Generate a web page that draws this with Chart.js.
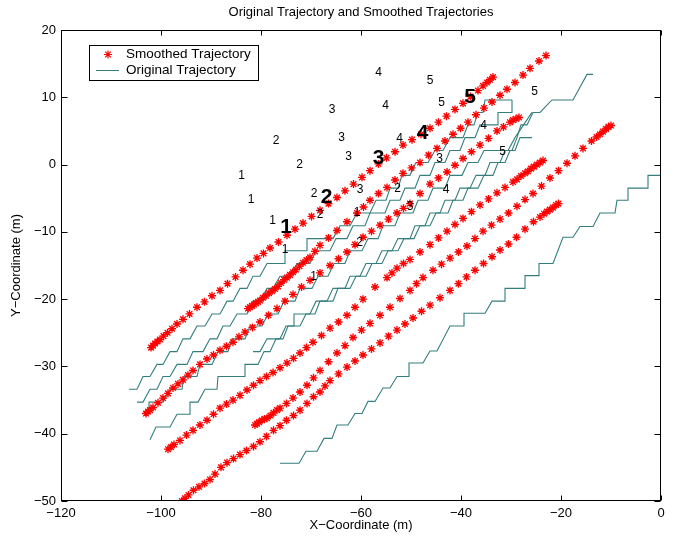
<!DOCTYPE html>
<html>
<head>
<meta charset="utf-8">
<script src="https://cdn.jsdelivr.net/npm/chart.js@4/dist/chart.umd.min.js"></script>
<style>
html,body{margin:0;padding:0;background:#fff;}
#wrap{width:673px;height:539px;}
</style>
</head>
<body>
<div id="wrap"><canvas id="c" width="673" height="539"></canvas></div>
<script>
// ---------- DATA ----------
const xTickValues = [-120, -100, -80, -60, -40, -20, 0];
const yTickValues = [-50, -40, -30, -20, -10, 0, 10, 20];

// Smoothed trajectories (red stars)
const smoothedA = [[-102.0,-27.2],[-101.6,-26.9],[-101.2,-26.6],[-100.7,-26.3],[-100.2,-26.0],[-99.5,-25.5],[-98.7,-25.0],[-97.8,-24.4],[-96.8,-23.7],[-95.6,-23.0],[-94.3,-22.2],[-92.8,-21.2],[-91.3,-20.4],[-89.8,-19.5],[-88.2,-18.7],[-86.7,-17.7],[-85.1,-16.7],[-83.6,-15.7],[-82.2,-14.8],[-80.8,-13.9],[-79.5,-13.2],[-78.2,-12.4],[-76.5,-11.5],[-74.8,-10.5],[-73.2,-9.6],[-71.6,-8.7],[-69.9,-7.7],[-68.2,-6.8],[-66.5,-5.8],[-64.8,-4.9],[-63.2,-3.9],[-61.5,-2.9],[-59.8,-1.9],[-58.2,-0.9],[-56.5,0.1],[-54.9,1.0],[-53.2,1.9],[-51.6,2.9],[-49.8,3.7],[-48.0,4.5],[-46.2,5.4],[-44.5,6.3],[-42.9,7.2],[-41.2,8.2],[-39.6,9.1],[-38.1,10.1],[-36.6,11.0],[-35.6,11.7],[-34.8,12.2],[-34.2,12.6],[-33.6,13.0]];
const smoothedB = [[-82.6,-21.4],[-82.2,-21.2],[-81.8,-21.0],[-81.4,-20.8],[-81.0,-20.6],[-80.6,-20.4],[-80.2,-20.2],[-79.6,-19.8],[-79.0,-19.5],[-78.4,-19.1],[-77.8,-18.8],[-77.2,-18.5],[-76.6,-18.1],[-76.0,-17.6],[-75.4,-17.1],[-74.8,-16.8],[-74.2,-16.4],[-73.6,-16.0],[-73.0,-15.6],[-72.3,-15.1],[-71.6,-14.6],[-70.9,-14.2],[-70.2,-13.8],[-69.2,-12.9],[-68.2,-12.0],[-66.5,-10.9],[-64.8,-9.8],[-62.8,-8.5],[-60.8,-7.2],[-59.5,-6.3],[-58.2,-5.3],[-56.5,-4.3],[-54.8,-3.4],[-53.2,-2.3],[-51.6,-1.3],[-49.9,-0.5],[-48.2,0.3],[-46.5,1.4],[-44.8,2.4],[-43.2,3.5],[-41.6,4.5],[-40.1,5.4],[-38.6,6.3],[-37.0,7.4],[-35.4,8.4],[-33.8,9.3],[-32.2,10.3],[-30.8,11.2],[-29.2,12.2],[-27.6,13.3],[-26.2,14.3],[-24.4,15.4],[-23.0,16.2]];
const smoothedC = [[-103.0,-37.0],[-102.6,-36.7],[-102.2,-36.5],[-101.6,-36.1],[-100.6,-35.4],[-99.6,-34.7],[-98.6,-34.0],[-97.6,-33.2],[-96.6,-32.6],[-95.6,-32.0],[-94.6,-31.3],[-93.6,-30.6],[-92.2,-29.7],[-90.8,-28.9],[-89.5,-28.3],[-88.2,-27.6],[-86.9,-27.0],[-85.6,-26.4],[-84.4,-25.6],[-83.2,-24.9],[-81.7,-24.2],[-80.2,-23.4],[-78.5,-22.4],[-76.8,-21.4],[-75.2,-20.3],[-73.6,-19.3],[-71.9,-18.2],[-70.2,-17.2],[-68.2,-16.1],[-66.2,-15.0],[-64.5,-14.0],[-62.8,-13.0],[-61.2,-11.9],[-59.6,-10.8],[-57.9,-9.9],[-56.2,-9.0],[-54.5,-8.1],[-52.8,-7.2],[-51.5,-6.5],[-50.2,-5.8],[-48.2,-4.3],[-46.2,-2.9],[-44.5,-2.0],[-42.8,-1.1],[-41.2,-0.1],[-39.6,0.9],[-37.9,1.9],[-36.2,2.9],[-34.5,3.9],[-32.8,5.0],[-31.5,5.6],[-30.2,6.3],[-29.6,6.6],[-29.0,6.8],[-28.4,7.0]];
const smoothedD = [[-98.6,-42.3],[-98.0,-42.0],[-97.4,-41.6],[-96.2,-41.0],[-94.9,-40.2],[-93.6,-39.5],[-92.2,-38.7],[-90.8,-38.0],[-89.5,-37.1],[-88.2,-36.2],[-86.9,-35.6],[-85.6,-35.0],[-84.2,-34.3],[-82.8,-33.5],[-81.5,-32.8],[-80.2,-32.1],[-78.9,-31.5],[-77.6,-30.9],[-76.2,-30.2],[-74.8,-29.5],[-73.5,-28.8],[-72.2,-28.0],[-70.9,-27.2],[-69.6,-26.4],[-67.9,-25.4],[-66.2,-24.3],[-64.5,-23.4],[-62.8,-22.4],[-61.2,-21.2],[-59.6,-20.0],[-57.2,-18.2],[-54.8,-16.8],[-53.8,-16.1],[-52.8,-15.4],[-51.5,-14.7],[-50.2,-14.1],[-48.2,-13.0],[-46.2,-11.9],[-44.5,-10.9],[-42.8,-9.9],[-41.2,-8.9],[-39.6,-8.0],[-37.9,-7.0],[-36.2,-6.0],[-34.5,-5.1],[-32.8,-4.2],[-31.2,-3.4],[-29.6,-2.6],[-28.8,-2.2],[-28.0,-1.7],[-27.2,-1.3],[-26.6,-1.0],[-26.0,-0.6],[-25.4,-0.3],[-24.8,0.0],[-24.2,0.3],[-23.6,0.6]];
const smoothedE = [[-81.2,-38.7],[-80.8,-38.5],[-80.4,-38.3],[-79.8,-38.0],[-79.3,-37.8],[-78.8,-37.7],[-78.1,-37.3],[-77.5,-36.9],[-76.8,-36.5],[-76.2,-36.2],[-74.9,-35.5],[-73.6,-34.7],[-72.2,-33.8],[-70.8,-32.8],[-69.5,-31.7],[-68.2,-30.6],[-66.5,-29.3],[-64.8,-28.0],[-63.2,-26.9],[-61.6,-25.7],[-59.9,-24.6],[-58.2,-23.6],[-56.2,-22.4],[-54.2,-21.2],[-52.2,-19.9],[-50.2,-18.7],[-48.9,-17.7],[-47.6,-16.8],[-45.6,-15.7],[-43.9,-14.8],[-42.2,-13.9],[-40.5,-13.0],[-38.8,-12.1],[-37.2,-11.0],[-35.6,-9.9],[-33.9,-9.0],[-32.2,-8.1],[-30.5,-7.2],[-28.8,-6.2],[-27.2,-5.2],[-25.6,-4.3],[-23.9,-3.2],[-22.2,-2.0],[-20.5,-0.9],[-18.8,0.2],[-17.2,1.3],[-15.6,2.4],[-13.9,3.5],[-12.9,4.1],[-12.2,4.5],[-11.6,4.9],[-11.0,5.3],[-10.5,5.6],[-10.0,5.8]];
const smoothedF = [[-95.8,-50.0],[-95.2,-49.6],[-94.5,-49.1],[-93.5,-48.4],[-92.4,-47.9],[-91.3,-47.4],[-90.2,-46.8],[-89.2,-46.0],[-88.0,-45.0],[-86.8,-44.3],[-85.5,-43.7],[-84.2,-43.1],[-82.9,-42.5],[-81.5,-41.9],[-80.2,-41.2],[-78.9,-40.4],[-77.5,-39.5],[-76.2,-38.8],[-74.9,-38.0],[-73.5,-37.3],[-72.2,-36.5],[-70.8,-35.5],[-69.5,-34.5],[-68.2,-33.8],[-67.2,-32.9],[-66.2,-32.1],[-64.5,-31.1],[-62.8,-30.1],[-61.2,-29.2],[-59.6,-28.3],[-57.9,-27.4],[-56.2,-26.5],[-54.5,-25.5],[-52.8,-24.6],[-51.2,-23.7],[-49.6,-22.8],[-47.9,-21.8],[-46.2,-20.9],[-44.2,-19.8],[-42.2,-18.7],[-40.5,-17.7],[-38.9,-16.7],[-37.2,-15.7],[-35.5,-14.7],[-33.8,-13.7],[-32.2,-12.7],[-30.5,-11.8],[-28.9,-10.8],[-27.2,-9.6],[-25.5,-8.5],[-24.2,-7.8],[-23.4,-7.3],[-22.8,-7.0],[-22.2,-6.7],[-21.6,-6.4],[-21.0,-6.0],[-20.5,-5.8]];

// Original trajectories (teal step lines)
const originalT1 = [[-106.4,-33.4],[-104.8,-33.4],[-103.6,-31.5],[-102.2,-31.5],[-100.8,-29.7],[-99.6,-29.7],[-98.2,-27.8],[-96.8,-27.8],[-95.6,-25.9],[-94.2,-25.9],[-92.8,-24.0],[-91.2,-24.0],[-89.8,-22.2],[-88.2,-22.2],[-86.8,-20.3],[-85.6,-20.3],[-84.2,-18.4],[-82.8,-18.4],[-81.6,-16.6],[-80.2,-16.6],[-78.8,-14.7],[-75.2,-14.7],[-75.2,-12.8],[-70.8,-12.8],[-70.8,-11.0],[-65.6,-11.0],[-64.2,-9.1],[-62.2,-9.1],[-60.8,-7.2],[-58.2,-7.2],[-57.0,-5.3],[-55.0,-5.3],[-54.2,-3.5],[-52.6,-3.5],[-51.8,-1.6],[-50.2,-1.6],[-49.0,0.3],[-46.6,0.3],[-45.2,2.1],[-43.6,2.1],[-42.2,4.0],[-39.6,4.0],[-38.6,5.9],[-37.4,5.9],[-36.6,7.75],[-35.6,7.75],[-35.2,9.6],[-29.8,9.6]];
const originalT2 = [[-104.8,-35.3],[-103.6,-35.3],[-102.2,-33.4],[-100.8,-33.4],[-99.6,-31.5],[-98.2,-31.5],[-96.8,-29.7],[-94.8,-29.7],[-93.6,-27.8],[-91.6,-27.8],[-90.2,-25.9],[-88.8,-25.9],[-87.6,-24.0],[-86.2,-24.0],[-84.8,-22.2],[-82.8,-22.2],[-81.6,-20.3],[-80.2,-20.3],[-78.8,-18.4],[-77.6,-18.4],[-76.2,-16.6],[-74.2,-16.6],[-72.8,-14.7],[-70.2,-14.7],[-69.0,-12.8],[-66.2,-12.8],[-65.0,-11.0],[-62.8,-11.0],[-61.6,-9.1],[-59.2,-9.1],[-58.2,-7.2],[-55.2,-7.2],[-54.2,-5.3],[-52.2,-5.3],[-51.2,-3.5],[-49.2,-3.5],[-48.2,-1.6],[-46.2,-1.6],[-45.2,0.3],[-43.2,0.3],[-42.2,2.1],[-40.2,2.1],[-39.2,4.0],[-37.2,4.0],[-36.2,5.9],[-32.6,5.9],[-32.6,7.75],[-29.8,7.75],[-29.8,9.6]];
const originalT3 = [[-102.2,-40.9],[-101.0,-39.0],[-98.2,-39.0],[-96.8,-37.1],[-94.2,-37.1],[-94.2,-35.3],[-92.6,-35.3],[-91.2,-33.4],[-88.8,-33.4],[-88.6,-31.5],[-83.2,-31.5],[-83.2,-29.7],[-80.6,-29.7],[-79.4,-27.8],[-78.2,-27.8],[-77.0,-25.9],[-75.6,-25.9],[-74.6,-24.0],[-73.4,-24.0],[-73.4,-22.2],[-70.2,-22.2],[-69.0,-20.3],[-66.8,-20.3],[-65.6,-18.4],[-63.2,-18.4],[-62.2,-16.6],[-60.2,-16.6],[-59.0,-14.7],[-57.0,-14.7],[-55.8,-12.8],[-53.8,-12.8],[-52.6,-11.0],[-50.2,-11.0],[-49.2,-9.1],[-47.2,-9.1],[-46.2,-7.2],[-44.2,-7.2],[-43.2,-5.3],[-41.2,-5.3],[-40.2,-3.5],[-38.2,-3.5],[-37.0,-1.6],[-35.2,-1.6],[-34.2,0.3],[-32.2,0.3],[-31.2,2.1],[-29.8,2.1],[-28.8,4.0],[-28.0,5.9],[-26.8,5.9],[-25.6,7.75],[-24.2,7.75],[-21.8,9.6],[-17.6,9.6],[-14.8,13.4],[-13.6,13.4]];
const originalT4 = [[-102.4,-36.6],[-102.4,-35.3],[-99.6,-35.3],[-98.2,-33.4],[-95.8,-33.4],[-95.4,-31.5],[-92.8,-31.5],[-92.2,-29.7],[-89.8,-29.7],[-88.6,-27.8],[-86.6,-27.8],[-85.8,-25.9],[-83.2,-25.9],[-82.2,-24.0],[-79.8,-24.0],[-78.6,-22.2],[-76.6,-22.2],[-75.4,-20.3],[-73.2,-20.3],[-72.2,-18.4],[-69.8,-18.4],[-68.6,-16.6],[-66.6,-16.6],[-65.4,-14.7],[-63.2,-14.7],[-62.2,-12.8],[-59.8,-12.8],[-58.6,-11.0],[-56.6,-11.0],[-55.6,-9.1],[-53.2,-9.1],[-52.2,-7.2],[-49.6,-7.2],[-48.6,-5.3],[-46.6,-5.3],[-45.6,-3.5],[-43.2,-3.5],[-42.2,-1.6],[-39.8,-1.6],[-38.6,0.3],[-36.6,0.3],[-35.4,2.1],[-30.6,2.1],[-29.2,4.0],[-25.8,7.75]];
const originalT5 = [[-81.6,-27.8],[-80.2,-27.8],[-78.8,-25.9],[-76.2,-25.9],[-75.0,-24.0],[-72.2,-24.0],[-71.0,-22.2],[-69.2,-22.2],[-68.2,-20.3],[-65.6,-20.3],[-64.6,-18.4],[-62.2,-18.4],[-61.0,-16.6],[-59.0,-16.6],[-57.8,-14.7],[-55.8,-14.7],[-54.6,-12.8],[-52.6,-12.8],[-51.4,-11.0],[-49.4,-11.0],[-48.2,-9.1],[-46.2,-9.1],[-45.0,-7.2],[-42.6,-7.2],[-41.6,-5.3],[-39.6,-5.3],[-38.6,-3.5],[-36.6,-3.5],[-35.4,-1.6],[-33.6,-1.6],[-32.6,0.3],[-31.2,0.3],[-30.2,2.1],[-29.2,2.1],[-28.2,4.0],[-25.8,4.0]];
const originalT6 = [[-76.2,-44.4],[-72.4,-44.4],[-71.0,-42.6],[-68.8,-42.6],[-67.4,-40.7],[-65.8,-40.7],[-64.8,-38.7],[-62.6,-38.7],[-61.2,-37.0],[-59.8,-37.0],[-58.6,-35.2],[-57.2,-35.2],[-55.6,-33.2],[-54.2,-33.2],[-52.8,-31.5],[-50.4,-31.5],[-50.4,-29.5],[-47.6,-29.5],[-46.2,-27.7],[-44.8,-27.7],[-42.2,-24.0],[-39.4,-24.0],[-39.4,-22.1],[-35.2,-22.1],[-33.8,-20.3],[-31.2,-20.3],[-31.2,-18.4],[-27.2,-18.4],[-27.2,-16.5],[-24.4,-16.5],[-24.4,-14.7],[-21.6,-14.7],[-19.6,-10.8],[-17.6,-10.8],[-16.2,-9.2],[-13.6,-9.2],[-12.2,-7.2],[-9.2,-7.2],[-8.8,-5.3],[-6.6,-5.3],[-6.6,-3.5],[-2.6,-3.5],[-2.6,-1.6],[0,-1.6]];

// Text labels inside the plot
const smallLabelText = ['1','1','1','1','1','1','2','2','2','2','2','2','3','3','3','3','3','3','4','4','4','4','4','5','5','5','5'];
const smallLabelX = [-83.9,-82.0,-77.7,-75.2,-69.5,-60.8, -77.0,-72.3,-69.4,-68.2,-60.3,-52.7, -65.8,-63.9,-62.5,-60.2,-50.2,-44.3, -56.5,-55.1,-52.3,-43.0,-35.5, -46.2,-43.9,-31.7,-25.3];
const smallLabelY = [-1.6,-5.2,-8.3,-12.7,-16.7,-7.1, 3.5,0.0,-4.4,-7.5,-11.6,-3.6, 8.2,4.0,1.2,-3.7,-6.3,0.9, 13.7,8.8,3.9,-3.8,5.8, 12.5,9.2,1.9,10.9];
const boldLabelText = ['1','2','3','4','5'];
const boldLabelX = [-75.0,-66.9,-56.5,-47.7,-38.2];
const boldLabelY = [-9.3,-4.8,0.9,4.6,10.0];

const legendLabels = ['Smoothed Trajectory','Original Trajectory'];
const titleText = 'Original Trajectory and Smoothed Trajectories';
const xTitle = 'X\u2212Coordinate (m)';
const yTitle = 'Y\u2212Coordinate (m)';

// ---------- STYLE ----------
const RED = 'rgb(255,0,0)';
const TEAL = 'rgb(52,126,126)';
const FONT = '"Liberation Sans", Arial, Helvetica, sans-serif';

const toXY = arr => arr.map(p => ({x: p[0], y: p[1]}));
const smoothedSets = [smoothedA, smoothedB, smoothedC, smoothedD, smoothedE, smoothedF];
const originalSets = [originalT1, originalT2, originalT3, originalT4, originalT5, originalT6];

const datasets = [];
smoothedSets.forEach(s => datasets.push({
  data: toXY(s), showLine: false, pointStyle: 'star', pointRadius: 4,
  pointBorderColor: RED, pointBackgroundColor: RED, pointBorderWidth: 1.35, order: 0
}));
originalSets.forEach(s => datasets.push({
  data: toXY(s), showLine: true, borderColor: TEAL, borderWidth: 1.1, pointRadius: 0,
  tension: 0, fill: false, order: 1
}));

const fmt = v => v < 0 ? '\u2212' + Math.abs(v) : String(v);

const decor = {
  id: 'decor',
  afterDatasetsDraw(chart) {
    const {ctx, chartArea: a, scales: {x, y}} = chart;
    ctx.save();
    // labels in plot
    ctx.fillStyle = '#000';
    ctx.textAlign = 'center';
    ctx.textBaseline = 'middle';
    ctx.font = '12px ' + FONT;
    smallLabelText.forEach((t, i) => ctx.fillText(t, x.getPixelForValue(smallLabelX[i]), y.getPixelForValue(smallLabelY[i])));
    ctx.font = 'bold 21px ' + FONT;
    boldLabelText.forEach((t, i) => ctx.fillText(t, x.getPixelForValue(boldLabelX[i]), y.getPixelForValue(boldLabelY[i])));

    // box
    ctx.strokeStyle = '#000';
    ctx.lineWidth = 1;
    const L = Math.round(a.left) + 0.5, R = Math.round(a.right) - 0.5;
    const T = Math.round(a.top) + 0.5, B = Math.round(a.bottom) - 0.5;
    ctx.strokeRect(L, T, R - L, B - T);
    // inward ticks
    ctx.beginPath();
    xTickValues.forEach(v => {
      const px = Math.round(x.getPixelForValue(v)) + 0.5;
      ctx.moveTo(px, B); ctx.lineTo(px, B - 5);
      ctx.moveTo(px, T); ctx.lineTo(px, T + 5);
    });
    yTickValues.forEach(v => {
      const py = Math.round(y.getPixelForValue(v)) + 0.5;
      ctx.moveTo(L, py); ctx.lineTo(L + 6, py);
      ctx.moveTo(R, py); ctx.lineTo(R - 6, py);
    });
    ctx.stroke();

    // legend
    const lx = a.left + 28, ly = a.top + 15, lw = 169, lh = 35;
    ctx.fillStyle = '#fff';
    ctx.fillRect(lx, ly, lw, lh);
    ctx.strokeStyle = '#000';
    ctx.strokeRect(lx + 0.5, ly + 0.5, lw, lh);
    // star marker
    const sx = lx + 19, sy = ly + 9.5, r = 4;
    ctx.strokeStyle = RED;
    ctx.lineWidth = 1.2;
    ctx.beginPath();
    ctx.moveTo(sx - r, sy); ctx.lineTo(sx + r, sy);
    ctx.moveTo(sx, sy - r); ctx.lineTo(sx, sy + r);
    const d = r * Math.SQRT1_2;
    ctx.moveTo(sx - d, sy - d); ctx.lineTo(sx + d, sy + d);
    ctx.moveTo(sx - d, sy + d); ctx.lineTo(sx + d, sy - d);
    ctx.stroke();
    // line sample
    ctx.lineWidth = 1;
    ctx.strokeStyle = TEAL;
    ctx.beginPath();
    ctx.moveTo(lx + 7, ly + 25.5); ctx.lineTo(lx + 30, ly + 25.5);
    ctx.stroke();
    ctx.fillStyle = '#000';
    ctx.font = '13.5px ' + FONT;
    ctx.textAlign = 'left';
    ctx.fillText(legendLabels[0], lx + 37, sy);
    ctx.fillText(legendLabels[1], lx + 37, ly + 25.5);

    // title and axis titles
    ctx.textAlign = 'center';
    ctx.font = '13px ' + FONT;
    ctx.fillText(titleText, (a.left + a.right) / 2, 12);
    ctx.fillText(xTitle, (a.left + a.right) / 2, a.bottom + 24);
    ctx.save();
    ctx.translate(16, (a.top + a.bottom) / 2);
    ctx.rotate(-Math.PI / 2);
    ctx.fillText(yTitle, 0, 0);
    ctx.restore();
    ctx.restore();
  }
};

new Chart(document.getElementById('c'), {
  type: 'scatter',
  data: {datasets},
  options: {
    responsive: false,
    devicePixelRatio: 1,
    animation: false,
    events: [],
    layout: {padding: {top: 30, right: 12, left: 0, bottom: 0}},
    plugins: {legend: {display: false}, title: {display: false}, tooltip: {enabled: false}},
    scales: {
      x: {
        type: 'linear', min: -120, max: 0,
        afterFit: s => { s.height = 38; },
        afterBuildTicks: s => { s.ticks = xTickValues.map(v => ({value: v})); },
        grid: {display: false, drawTicks: false},
        border: {display: false},
        ticks: {callback: fmt, color: '#000', padding: 5, maxRotation: 0, autoSkip: false,
                font: {family: FONT, size: 13}}
      },
      y: {
        type: 'linear', min: -50, max: 20,
        afterFit: s => { s.width = 61; },
        afterBuildTicks: s => { s.ticks = yTickValues.map(v => ({value: v})); },
        grid: {display: false, drawTicks: false},
        border: {display: false},
        ticks: {callback: fmt, color: '#000', padding: 5, autoSkip: false,
                font: {family: FONT, size: 13}}
      }
    }
  },
  plugins: [decor]
});
</script>
</body>
</html>
